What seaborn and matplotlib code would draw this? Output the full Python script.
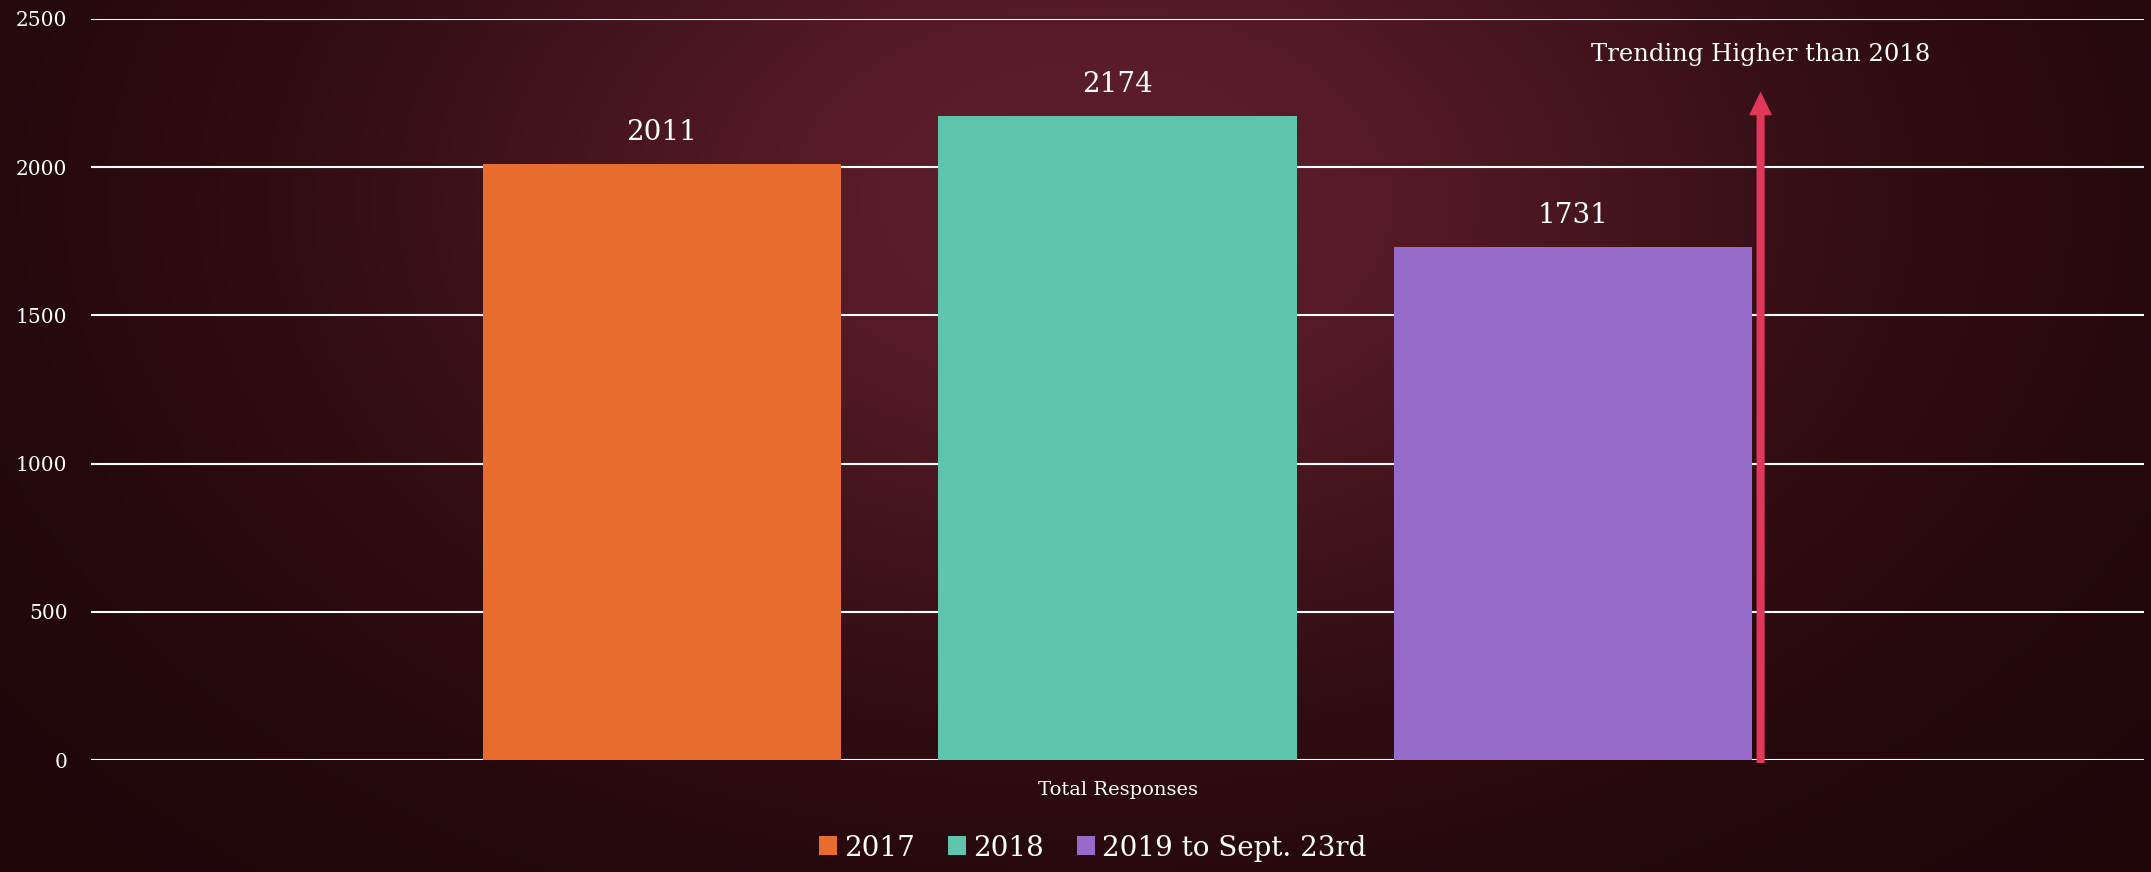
import numpy as np
import pandas as pd
import matplotlib
matplotlib.use('Agg')
import matplotlib.pyplot as plt
import seaborn as sns

# chart data
categories = ["Total Responses"]
series = ["2017", "2018", "2019 to Sept. 23rd"]
values = [2011, 2174, 1731]
colors = ["#E96C2F", "#5FC4AC", "#966AC8"]
y_ticks = [0, 500, 1000, 1500, 2000, 2500]
note_text = "Trending Higher than 2018"
arrow_top = 2255

df = pd.DataFrame({"metric": categories * len(series), "series": series, "responses": values})

sns.set_style("dark", {"axes.facecolor": "none", "axes.grid": False})
plt.rcParams['font.family'] = ['DejaVu Serif', 'DejaVu Sans']

W, H = 2151, 872
fig = plt.figure(figsize=(W / 100, H / 100), dpi=100)
fig.patch.set_facecolor("#1E0609")

# dark maroon radial background
bg = fig.add_axes([0, 0, 1, 1], zorder=-10)
yy, xx = np.mgrid[0:H:4, 0:W:4]
t2 = ((xx - 1090) / 1150.0) ** 2 + ((yy - 200) / 750.0) ** 2
f = np.exp(-2.4 * t2)[..., None]
bright = np.array([94, 30, 43]) / 255
dark = np.array([30, 6, 9]) / 255
img = dark + (bright - dark) * f
bg.imshow(img, aspect='auto', extent=[0, 1, 0, 1], origin='upper')
bg.axis('off')

ax = fig.add_axes([91 / W, 1 - 760 / H, (2144 - 91) / W, (760 - 19) / H])
ax.set_facecolor("none")

sns.barplot(data=df, x="metric", y="responses", hue="series", palette=colors,
            saturation=1, width=0.666, gap=0.214, ax=ax, zorder=3,
            edgecolor="none", linewidth=0)

ax.set_ylim(0, 2500)
ax.set_xlim(-0.5, 0.5)
ax.set_yticks(y_ticks)
for yv in y_ticks:
    ax.axhline(yv, color="white", lw=1.5, zorder=1)
for s in ax.spines.values():
    s.set_visible(False)
ax.tick_params(axis='both', length=0, colors="white")
ax.tick_params(axis='y', labelsize=14.5, pad=17)
ax.tick_params(axis='x', labelsize=14, pad=15)
ax.set_xlabel("")
ax.set_ylabel("")

for cont in ax.containers:
    ax.bar_label(cont, padding=13, color="white", fontsize=20)

# arrow next to the last bar
last = ax.patches[len(series) - 1]
x_arrow = last.get_x() + last.get_width() + 0.004
ax.annotate("", xy=(x_arrow, arrow_top), xytext=(x_arrow, -10),
            arrowprops=dict(width=5.8, headwidth=16.5, headlength=17, shrink=0,
                            facecolor="#E0375A", edgecolor="none"),
            annotation_clip=False, zorder=4)
ax.text(x_arrow, 2381, note_text, ha="center", va="center", color="white", fontsize=17.5)

ax.legend(loc="center", bbox_to_anchor=(0.508, 0.0275), bbox_transform=fig.transFigure,
          ncol=3, frameon=False, fontsize=20, labelcolor="white",
          handlelength=0.65, handleheight=0.65, handletextpad=0.25, columnspacing=1.2)

fig.savefig("out.png", dpi=100, facecolor=fig.get_facecolor())
